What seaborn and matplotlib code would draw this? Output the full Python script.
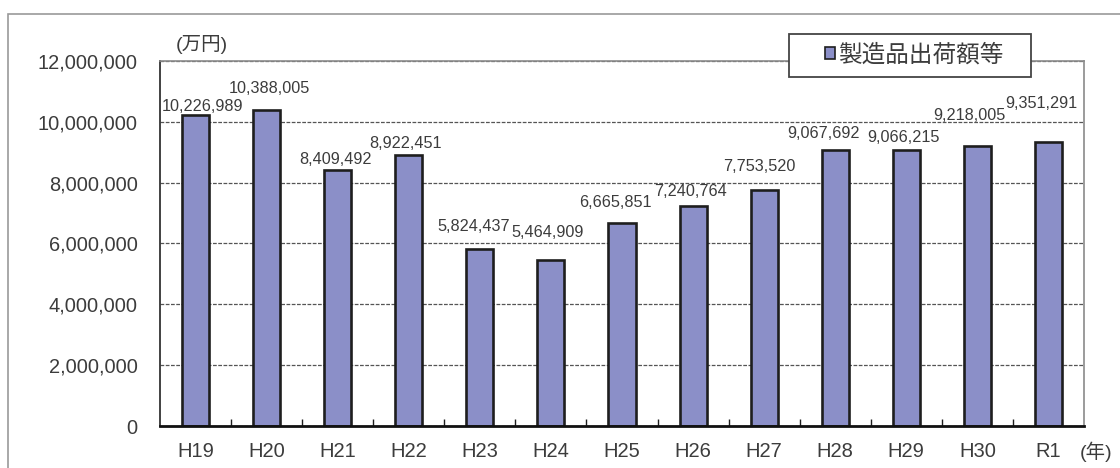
import matplotlib
matplotlib.use("Agg")
import numpy as np
import pandas as pd
import seaborn as sns
import matplotlib.pyplot as plt
from matplotlib.patches import Rectangle
from matplotlib.legend_handler import HandlerPatch
from matplotlib.ticker import FixedLocator, FuncFormatter

# --- data -------------------------------------------------------------
years = ["H19", "H20", "H21", "H22", "H23", "H24", "H25",
         "H26", "H27", "H28", "H29", "H30", "R1"]
shipments = [10226989, 10388005, 8409492, 8922451, 5824437, 5464909,
             6665851, 7240764, 7753520, 9067692, 9066215, 9218005, 9351291]
series_name = "製造品出荷額等"
y_ticks = [0, 2000000, 4000000, 6000000, 8000000, 10000000, 12000000]
unit_label = "(万円)"
year_label = "(年)"

# value-label nudges (pixels, dx/dy from the top centre of each bar)
label_offsets = [(7, 8), (3, 22), (-2, 11), (-3, 11), (-6, 22), (-3, 27),
                 (-7, 21), (-3, 14), (-5, 24), (-12, 17), (-3, 13),
                 (-8, 30), (-7, 38)]

# --- style ------------------------------------------------------------
sns.set_style("white")
plt.rcParams["font.family"] = ["Liberation Sans", "Noto Sans CJK JP", "DejaVu Sans"]

W, H = 1120, 468
bar_color = "#8B8FC8"
edge_color = "#1e1e1e"
text_color = "#3c3c3c"

fig = plt.figure(figsize=(W / 100, H / 100), dpi=100)
fig.patch.set_facecolor("white")
ax = fig.add_axes([160 / W, 1 - 426 / H, 924 / W, 365 / H])

df = pd.DataFrame({"year": years, "value": shipments})
sns.barplot(data=df, x="year", y="value", color=bar_color, saturation=1,
            edgecolor=edge_color, linewidth=1.9, width=0.38, ax=ax, zorder=3)

ax.set_ylim(y_ticks[0], y_ticks[-1])
ax.set_xlim(-0.5, len(years) - 0.5)
ax.set_xlabel("")
ax.set_ylabel("")

# y axis
ax.yaxis.set_major_locator(FixedLocator(y_ticks))
ax.yaxis.set_major_formatter(FuncFormatter(lambda v, p: f"{int(v):,}"))
ax.tick_params(axis="y", length=0, pad=16, labelsize=14.4, labelcolor=text_color)

# x axis: labels under bars, small inward ticks between categories
ax.tick_params(axis="x", which="major", length=0, pad=11.5, labelsize=14.5,
               labelcolor=text_color)
ax.xaxis.set_minor_locator(FixedLocator([i + 0.5 for i in range(len(years) - 1)]))
ax.tick_params(axis="x", which="minor", direction="in", length=5, width=1,
               color=edge_color, bottom=True)

# dashed horizontal grid
ax.yaxis.grid(True, linestyle=(0, (3, 1.2)), color="#555555", linewidth=0.9)
ax.set_axisbelow(True)

for side in ["top", "right"]:
    ax.spines[side].set_visible(True)
    ax.spines[side].set_color("#8a8a8a")
    ax.spines[side].set_linewidth(1.2)
ax.spines["left"].set_color("#333333")
ax.spines["left"].set_linewidth(1.3)
ax.spines["bottom"].set_color("#111111")
ax.spines["bottom"].set_linewidth(2.0)
ax.spines["bottom"].set_zorder(4)

# value labels
for i, (v, (dx, dy)) in enumerate(zip(shipments, label_offsets)):
    ax.annotate(f"{v:,}", xy=(i, v), xytext=(dx, dy), textcoords="offset pixels",
                ha="center", va="center", fontsize=11.7, color=text_color,
                zorder=5)

# legend box
fs = 17
fs_px = fs * 100 / 72
leg = ax.legend([ax.patches[0]], [series_name],
                handler_map={Rectangle: HandlerPatch(xpad=26 / fs_px)},
                bbox_to_anchor=(789 / W, 1 - 79 / H, 242 / W, 47 / H),
                bbox_transform=fig.transFigure, loc="center", mode="expand",
                borderaxespad=0, borderpad=10 / fs_px, fontsize=fs,
                handlelength=36 / fs_px, handleheight=10 / fs_px,
                handletextpad=3 / fs_px, fancybox=False, framealpha=1,
                edgecolor="#444444", facecolor="white")
leg.get_frame().set_linewidth(1.3)
for t in leg.get_texts():
    t.set_color(text_color)
for h in leg.legend_handles:
    h.set_linewidth(1.2)

# unit captions
fig.text(202 / W, 1 - 44 / H, unit_label, ha="center", va="center",
         fontsize=14, color=text_color)
fig.text(1096 / W, 1 - 452 / H, year_label, ha="center", va="center",
         fontsize=14, color=text_color)

# outer chart frame
fig.add_artist(Rectangle((8 / W, -0.2), 1.2, 1.2 - 14 / H,
                         transform=fig.transFigure, fill=False,
                         edgecolor="#9a9a9a", linewidth=1.2))

fig.savefig("out.png", dpi=100, facecolor="white")
